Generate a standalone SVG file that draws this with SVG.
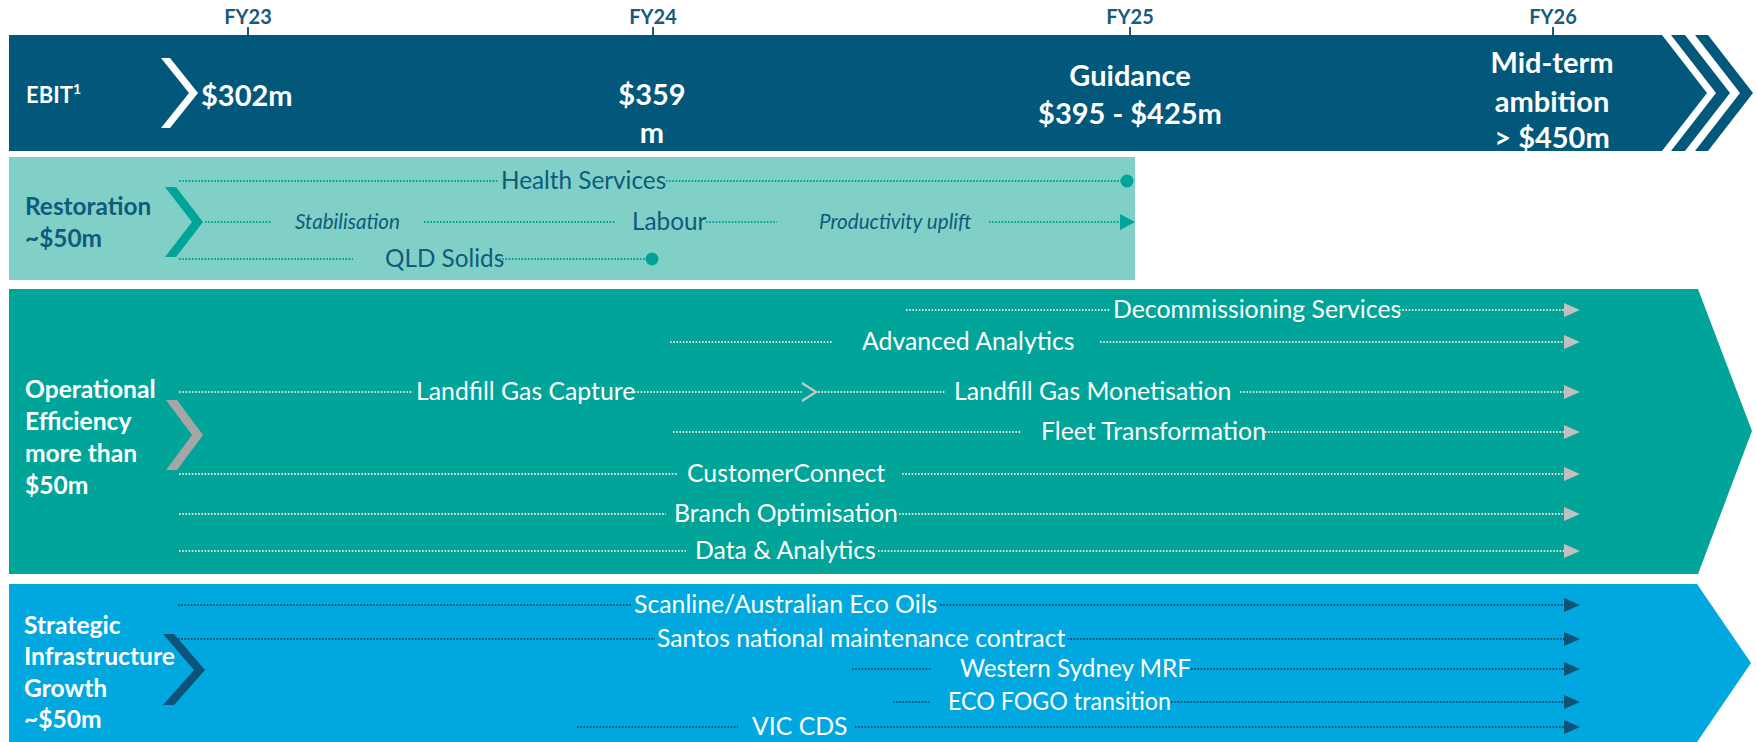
<svg xmlns="http://www.w3.org/2000/svg" width="1757" height="742" viewBox="0 0 1757 742">
<defs>
<style>
.fy{font-family:Lato,"Liberation Sans",sans-serif;font-weight:700;font-size:20px;fill:#175b7d;text-anchor:middle}
.tick{stroke:#175b7d;stroke-width:2}
.big{font-family:Lato,"Liberation Sans",sans-serif;font-weight:700;font-size:29px;fill:#fff}
.lbl{font-family:Lato,"Liberation Sans",sans-serif;font-weight:700;font-size:24.6px;fill:#fff}
.lblb{font-family:Lato,"Liberation Sans",sans-serif;font-weight:700;font-size:24.4px;fill:#0e5b7c}
.rt{font-family:Lato,"Liberation Sans",sans-serif;font-size:24.3px;fill:#0e5b7c}
.ri{font-family:Lato,"Liberation Sans",sans-serif;font-style:italic;font-size:20.6px;fill:#0e5b7c}
.wt{font-family:Lato,"Liberation Sans",sans-serif;font-size:24.8px;fill:#fff}
.dt{fill:none;stroke:#00a499;stroke-width:2.2;stroke-dasharray:1.6 1.6}
.dg{fill:none;stroke:#dedede;stroke-width:2.2;stroke-dasharray:1.6 1.6}
.db{fill:none;stroke:#0d4f72;stroke-width:2.2;stroke-dasharray:1.6 1.6}
</style>
</defs>

<g id="timeline">
<text class="fy" x="248" y="24">FY23</text><line class="tick" x1="248" y1="27" x2="248" y2="35"/>
<text class="fy" x="653" y="24">FY24</text><line class="tick" x1="653" y1="27" x2="653" y2="35"/>
<text class="fy" x="1130" y="24">FY25</text><line class="tick" x1="1130" y1="27" x2="1130" y2="35"/>
<text class="fy" x="1553" y="24">FY26</text><line class="tick" x1="1553" y1="27" x2="1553" y2="35"/>
</g>

<g id="ebit">
<polygon points="9,35 1662,35 1707,93 1662,151 9,151" fill="#02587b"/>
<polygon points="1671,35 1685,35 1730,93 1685,151 1671,151 1716,93" fill="#02587b"/>
<polygon points="1695,35 1708,35 1753,93 1708,151 1695,151 1740,93" fill="#02587b"/>
<polygon points="161,58 170,58 198,93 170,128 161,128 189,93" fill="#fff"/>
<text x="26" y="103" font-family="Lato,'Liberation Sans',sans-serif" font-weight="700" font-size="22" fill="#fff">EBIT<tspan font-size="14" dy="-9">1</tspan></text>
<text class="big" x="201" y="106">$302m</text>
<text class="big" x="652" y="105" text-anchor="middle">$359</text>
<text class="big" x="652" y="143" text-anchor="middle">m</text>
<text class="big" x="1130" y="86" text-anchor="middle">Guidance</text>
<text class="big" x="1130" y="124" text-anchor="middle">$395 - $425m</text>
<text class="big" x="1552" y="73" text-anchor="middle">Mid-term</text>
<text class="big" x="1552" y="112" text-anchor="middle">ambition</text>
<text class="big" x="1552" y="148" text-anchor="middle">&gt; $450m</text>
</g>

<g id="restoration">
<rect x="9" y="157" width="1126" height="123" fill="#80d0c8"/>
<polygon points="165,187 176,187 203,222 176,257 165,257 192,222" fill="#00a499"/>
<text class="lblb" x="25" y="215">Restoration</text>
<text class="lblb" x="25" y="247">~$50m</text>
<text class="rt" x="501" y="189">Health Services</text>
<text class="ri" x="295" y="229">Stabilisation</text>
<text class="rt" x="632" y="230">Labour</text>
<text class="ri" x="819" y="229">Productivity uplift</text>
<text class="rt" x="385" y="267">QLD Solids</text>
</g>

<g id="operational">
<polygon points="9,289 1698,289 1752,431 1698,574 9,574" fill="#00a499"/>
<polygon points="166,400 177,400 203,435 177,470 166,470 192,435" fill="#a6a6a6"/>
<text class="lbl" x="25" y="398">Operational</text>
<text class="lbl" x="25" y="430">Efficiency</text>
<text class="lbl" x="25" y="462">more than</text>
<text class="lbl" x="25" y="494">$50m</text>
<text class="wt" x="1113" y="318">Decommissioning Services</text>
<text class="wt" x="862" y="350">Advanced Analytics</text>
<text class="wt" x="416" y="400">Landfill Gas Capture</text>
<text class="wt" x="954" y="400">Landfill Gas Monetisation</text>
<text class="wt" x="1041" y="440">Fleet Transformation</text>
<text class="wt" x="687" y="482">CustomerConnect</text>
<text class="wt" x="674" y="522">Branch Optimisation</text>
<text class="wt" x="695" y="559">Data &amp; Analytics</text>
</g>

<g id="strategic">
<polygon points="9,584 1697,584 1751,663 1697,742 9,742" fill="#00a8df"/>
<polygon points="163,634 174,634 205,670 174,705 163,705 194,670" fill="#0d5277"/>
<text class="lbl" x="24" y="634">Strategic</text>
<text class="lbl" x="24" y="665">Infrastructure</text>
<text class="lbl" x="24" y="697">Growth</text>
<text class="lbl" x="24" y="728">~$50m</text>
<text class="wt" x="634" y="613">Scanline/Australian Eco Oils</text>
<text class="wt" x="657" y="647">Santos national maintenance contract</text>
<text class="wt" x="960" y="677" textLength="231" lengthAdjust="spacingAndGlyphs">Western Sydney MRF</text>
<text class="wt" x="948" y="710" textLength="223" lengthAdjust="spacingAndGlyphs">ECO FOGO transition</text>
<text class="wt" x="752" y="735">VIC CDS</text>
</g>

<g id="connectors">
<path class="dt" d="M179 181H499 M666 181H1122 M205 222H272 M424 222H616 M706 222H777 M989 222H1122 M179 259H353 M499 259H648"/>
<circle cx="1127" cy="181" r="6.5" fill="#00a499"/>
<circle cx="652" cy="259" r="6.5" fill="#00a499"/>
<polygon points="1120,214 1135,222 1120,230" fill="#00a499"/>

<path class="dg" d="M906 310H1110 M1399 310H1564 M670 342H832 M1100 342H1564 M179 392H413 M631 392H802 M818 392H945 M1240 392H1564 M673 432H1022 M1265 432H1564 M179 474H677 M902 474H1564 M179 514H666 M899 514H1564 M179 551H686 M878 551H1564"/>
<polyline points="802,383 816,392 802,401" fill="none" stroke="#c8c8c8" stroke-width="2.2"/>
<g fill="#c0c0c0">
<polygon points="1564,303 1580,310 1564,317"/>
<polygon points="1564,335 1580,342 1564,349"/>
<polygon points="1564,385 1580,392 1564,399"/>
<polygon points="1564,425 1580,432 1564,439"/>
<polygon points="1564,467 1580,474 1564,481"/>
<polygon points="1564,507 1580,514 1564,521"/>
<polygon points="1564,544 1580,551 1564,558"/>
</g>

<path class="db" d="M178 605H631 M940 605H1564 M178 639H655 M1067 639H1564 M852 669H931 M1191 669H1564 M893 702H931 M1171 702H1564 M577 727H738 M855 727H1564"/>
<g fill="#0d5277">
<polygon points="1564,598 1580,605 1564,612"/>
<polygon points="1564,632 1580,639 1564,646"/>
<polygon points="1564,662 1580,669 1564,676"/>
<polygon points="1564,695 1580,702 1564,709"/>
<polygon points="1564,720 1580,727 1564,734"/>
</g>
</g>
</svg>
